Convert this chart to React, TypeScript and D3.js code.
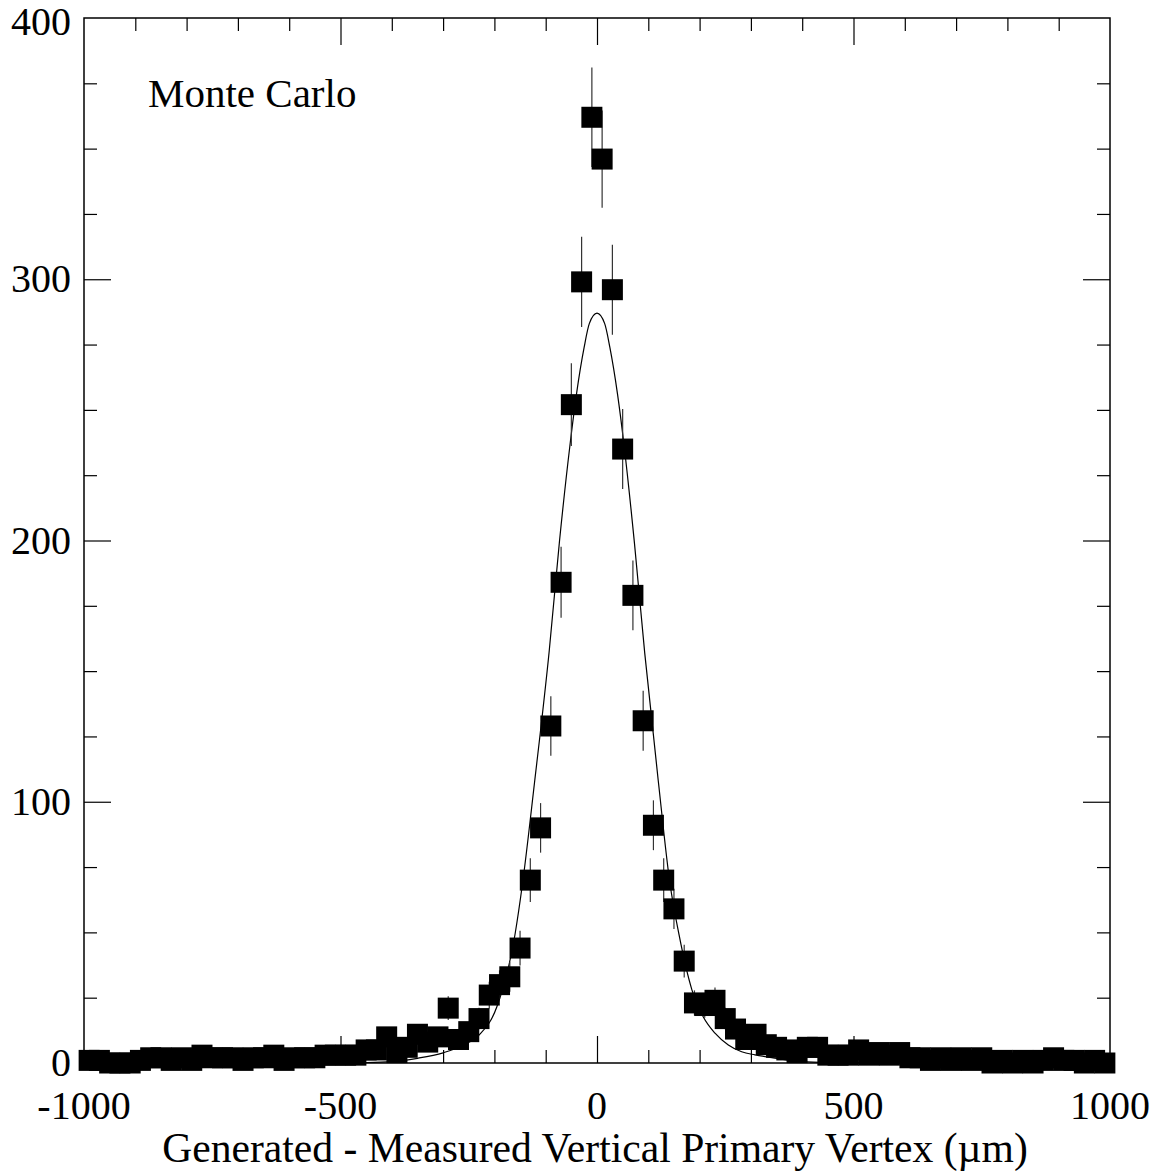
import React, {useEffect, useRef} from "react";
import {axisBottom, axisLeft, axisRight, axisTop, curveMonotoneX, line, range, scaleLinear, select} from "d3";

// bin contents, 20 um bins from -1000 to 1000
const countsLeft = [
    1, 1, 0, 0, 0, 1, 2, 2, 1, 2,
    1, 3, 2, 2, 2, 1, 2, 2, 3, 1,
    2, 2, 2, 3, 3, 3, 3, 5, 5, 10,
    4, 6, 11, 8, 10, 21, 9, 12, 17, 26,
    30, 33, 44, 70, 90, 129, 184, 252, 299, 362
];
const countsRight = [
    346, 296, 235, 179, 131, 91, 70, 59, 39, 23,
    22, 24, 17, 13, 9, 11, 7, 6, 5, 4,
    6, 6, 3, 3, 3, 5, 3, 4, 3, 4,
    2, 2, 1, 2, 1, 2, 1, 2, 0, 1,
    0, 1, 0, 1, 2, 1, 1, 0, 1, 0
];
const counts = countsLeft.concat(countsRight);

// fit curve
const fitX = [-1000, -600, -450, -400, -350, -300, -260, -230, -195, -160, -145, -122, -93, -73, -53, -40, -25, -15, 0,
    15, 25, 40, 53, 73, 93, 120, 142, 160, 185, 207, 230, 256, 282, 308, 350, 400, 450, 600, 1000];
const fitY = [0, 0, 0.2, 0.5, 1.8, 3.9, 6.9, 10.7, 21.6, 49, 69, 107, 158, 200, 236, 256, 274, 283, 287,
    283, 274, 256, 236, 199, 157, 107, 69, 49, 28, 17.7, 11.4, 6.9, 4.3, 3.1, 1.8, 0.5, 0.2, 0, 0];

const xTicks = [-1000, -500, 0, 500, 1000];
const yTicks = [0, 100, 200, 300, 400];

const width = 1164;
const height = 1175;
const left = 84, right = 1110, top = 18, bottom = 1063;
const font = "'Liberation Serif', 'Times New Roman', serif";

function App() {
    const svgRef = useRef(null);

    useEffect(() => {
        const svg = select(svgRef.current);
        svg.selectAll("*").remove();

        const x = scaleLinear().domain([-1000, 1000]).range([left, right]);
        const y = scaleLinear().domain([0, 400]).range([bottom, top]);

        const centers = range(-990, 1000, 20);
        const points = counts.map((n, i) => ({x: centers[i], n}));

        // frame
        svg.append("rect")
            .attr("x", left).attr("y", top)
            .attr("width", right - left).attr("height", bottom - top)
            .attr("fill", "none").attr("stroke", "#000").attr("stroke-width", 1.5);

        // ticks on all four sides
        const minorX = range(-1000, 1001, 100).filter(v => v % 500 !== 0);
        const minorY = range(0, 401, 25).filter(v => v % 100 !== 0);
        const drawTicks = (g, axis, minor, major) => {
            g.call(axis.tickValues(minor).tickSize(-13).tickFormat(""));
            g.append("g").call(axis.tickValues(major).tickSize(-27).tickFormat(""));
            g.selectAll(".domain").remove();
            g.selectAll("line").attr("stroke", "#000").attr("stroke-width", 1.2);
        };
        drawTicks(svg.append("g").attr("transform", `translate(0,${bottom})`), axisBottom(x), minorX, xTicks.slice(1, -1));
        drawTicks(svg.append("g").attr("transform", `translate(0,${top})`), axisTop(x), minorX, xTicks.slice(1, -1));
        drawTicks(svg.append("g").attr("transform", `translate(${left},0)`), axisLeft(y), minorY, yTicks.slice(1, -1));
        drawTicks(svg.append("g").attr("transform", `translate(${right},0)`), axisRight(y), minorY, yTicks.slice(1, -1));

        // tick labels
        svg.selectAll(".xl").data(xTicks).join("text")
            .attr("x", d => x(d)).attr("y", 1119)
            .attr("text-anchor", "middle")
            .attr("font-family", font).attr("font-size", 40)
            .text(d => d);
        svg.selectAll(".yl").data(yTicks).join("text")
            .attr("x", 71).attr("y", d => Math.max(y(d) + 13, 35))
            .attr("text-anchor", "end")
            .attr("font-family", font).attr("font-size", 40)
            .text(d => d);

        // fit
        const fit = fitX.map((v, i) => [v, fitY[i]]);
        svg.append("path")
            .datum(fit)
            .attr("fill", "none").attr("stroke", "#000").attr("stroke-width", 1.2)
            .attr("d", line().x(d => x(d[0])).y(d => y(d[1])).curve(curveMonotoneX));

        // error bars
        svg.append("g").selectAll("line")
            .data(points.filter(p => p.n > 0))
            .join("line")
            .attr("x1", p => x(p.x)).attr("x2", p => x(p.x))
            .attr("y1", p => y(p.n + Math.sqrt(p.n)))
            .attr("y2", p => y(Math.max(0, p.n - Math.sqrt(p.n))))
            .attr("stroke", "#333").attr("stroke-width", 1.2);

        // markers
        const s = 21;
        svg.append("g").selectAll("rect")
            .data(points)
            .join("rect")
            .attr("x", p => x(p.x) - s / 2)
            .attr("y", p => y(p.n) - s / 2)
            .attr("width", s).attr("height", s)
            .attr("fill", "#000");

        svg.append("text")
            .attr("x", 148).attr("y", 107)
            .attr("font-family", font).attr("font-size", 41)
            .text("Monte Carlo");

        svg.append("text")
            .attr("x", 595).attr("y", 1162)
            .attr("text-anchor", "middle")
            .attr("font-family", font).attr("font-size", 41.6)
            .text("Generated - Measured Vertical Primary Vertex (\u00b5m)");
    }, []);

    return (
        <svg ref={svgRef} width={width} height={height}
             style={{position: "absolute", left: 0, top: 0, background: "#fff"}}/>
    );
}

export default App;
